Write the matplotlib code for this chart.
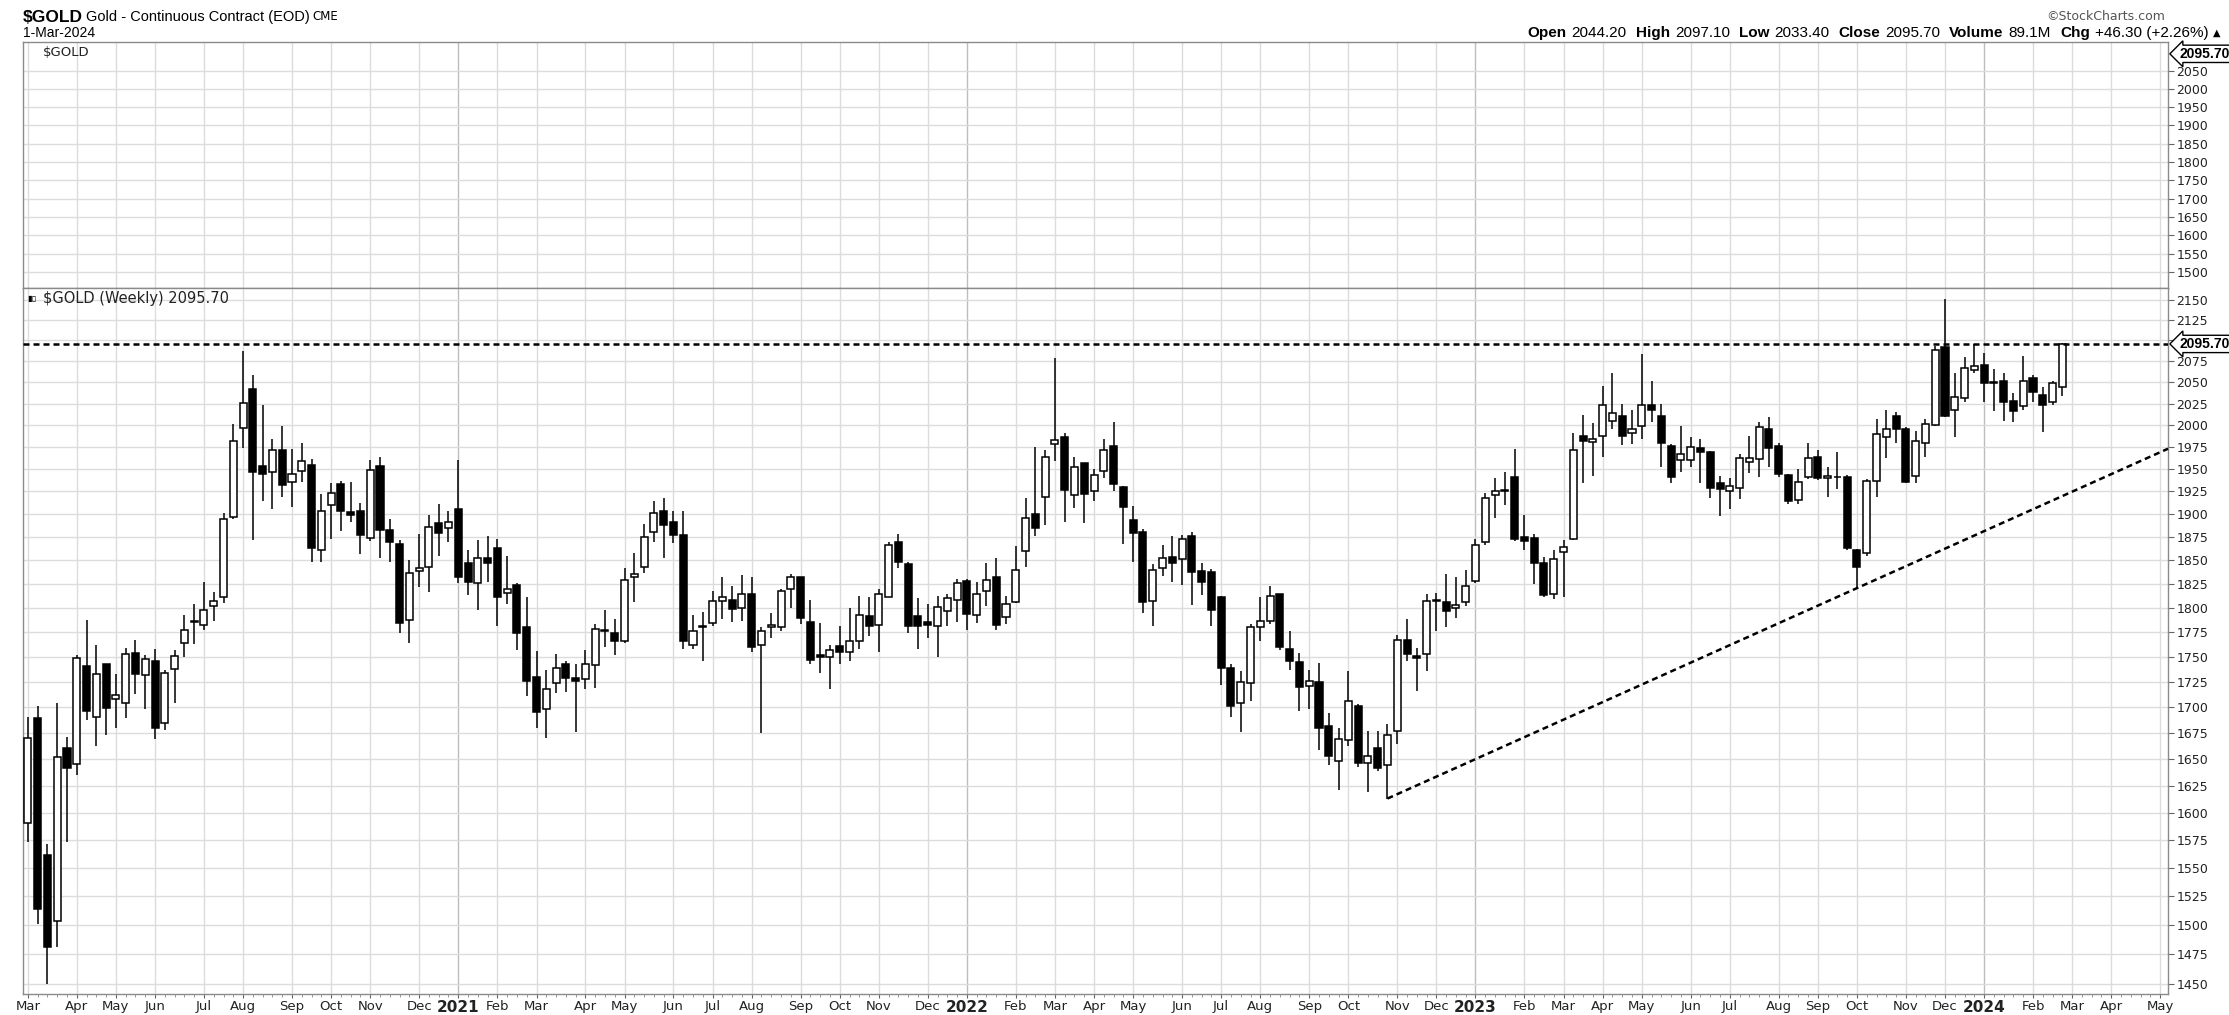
import numpy as np
import pandas as pd
import matplotlib
matplotlib.use("Agg")
import matplotlib.pyplot as plt
from matplotlib.ticker import NullLocator

W, H = 2229, 1015

# ---------------- data (weekly candles, weeks starting Monday) ----------------
first_week = "2020-03-02"
opens = [1590, 1690, 1561, 1503, 1661, 1645, 1741, 1691, 1743, 1708,
         1704, 1754, 1732, 1746, 1685, 1738, 1764, 1786, 1783, 1802,
         1811, 1897, 1997, 2042, 1954, 1947, 1971, 1935, 1948, 1955,
         1861, 1910, 1933, 1902, 1904, 1874, 1953, 1883, 1868, 1788,
         1839, 1843, 1890, 1885, 1906, 1847, 1826, 1853, 1863, 1816,
         1824, 1780, 1730, 1698, 1724, 1743, 1729, 1728, 1742, 1776,
         1774, 1766, 1833, 1843, 1881, 1903, 1891, 1877, 1762, 1780,
         1785, 1807, 1808, 1800, 1815, 1762, 1780, 1780, 1820, 1832,
         1786, 1752, 1750, 1761, 1755, 1766, 1792, 1783, 1812, 1870,
         1846, 1792, 1786, 1781, 1797, 1808, 1828, 1793, 1818, 1833,
         1791, 1806, 1860, 1900, 1919, 1978, 1986, 1921, 1957, 1926,
         1948, 1976, 1930, 1894, 1881, 1807, 1842, 1854, 1852, 1876,
         1839, 1838, 1812, 1739, 1704, 1724, 1780, 1787, 1815, 1758,
         1745, 1721, 1725, 1682, 1648, 1668, 1701, 1646, 1661, 1644,
         1677, 1767, 1751, 1753, 1807, 1806, 1800, 1806, 1828, 1870,
         1921, 1926, 1941, 1875, 1874, 1847, 1815, 1859, 1873, 1987,
         1981, 1987, 2005, 2011, 1991, 1999, 2023, 2010, 1976, 1960,
         1960, 1974, 1969, 1934, 1926, 1929, 1958, 1961, 1995, 1976,
         1943, 1916, 1941, 1964, 1940, 1941, 1941, 1861, 1858, 1937,
         1986, 2010, 1996, 1942, 1979, 2000, 2092, 2018, 2031, 2064,
         2070, 2050, 2051, 2028, 2022, 2055, 2035, 2027, 2044.2]
highs = [1691, 1701, 1571, 1704, 1671, 1752, 1788, 1762, 1743, 1733,
         1759, 1767, 1752, 1758, 1737, 1757, 1793, 1804, 1827, 1817,
         1901, 2001, 2087, 2058, 2023, 1984, 1999, 1973, 1980, 1961,
         1922, 1934, 1937, 1935, 1912, 1960, 1964, 1895, 1872, 1851,
         1878, 1899, 1911, 1903, 1960, 1861, 1872, 1876, 1873, 1855,
         1826, 1812, 1756, 1737, 1753, 1746, 1743, 1757, 1784, 1798,
         1789, 1842, 1858, 1889, 1914, 1918, 1904, 1904, 1793, 1796,
         1818, 1832, 1823, 1835, 1833, 1780, 1795, 1820, 1836, 1832,
         1808, 1785, 1762, 1781, 1800, 1813, 1811, 1820, 1870, 1878,
         1848, 1810, 1804, 1813, 1815, 1830, 1830, 1827, 1847, 1853,
         1813, 1865, 1918, 1975, 1972, 2079, 1991, 1964, 1957, 1950,
         1984, 2003, 1931, 1909, 1884, 1846, 1867, 1876, 1877, 1881,
         1847, 1841, 1813, 1743, 1736, 1784, 1811, 1823, 1815, 1776,
         1754, 1737, 1744, 1694, 1680, 1736, 1703, 1677, 1677, 1684,
         1772, 1789, 1759, 1815, 1816, 1836, 1832, 1840, 1873, 1923,
         1940, 1947, 1973, 1899, 1878, 1854, 1861, 1872, 1991, 2012,
         2002, 2046, 2061, 2025, 2018, 2083, 2051, 2024, 1978, 1999,
         1986, 1984, 1970, 1942, 1940, 1967, 1987, 2003, 2009, 1980,
         1945, 1950, 1979, 1972, 1952, 1969, 1943, 1862, 1939, 2007,
         2017, 2015, 1998, 1993, 2007, 2093, 2151, 2061, 2080, 2096,
         2085, 2066, 2061, 2037, 2081, 2059, 2044, 2052, 2097.1]
lows = [1573, 1501, 1450, 1481, 1573, 1635, 1688, 1663, 1673, 1680,
        1690, 1713, 1698, 1669, 1678, 1704, 1750, 1763, 1777, 1787,
        1805, 1895, 1974, 1872, 1914, 1906, 1919, 1908, 1935, 1848,
        1848, 1873, 1882, 1892, 1857, 1871, 1853, 1848, 1774, 1764,
        1822, 1817, 1855, 1870, 1826, 1814, 1798, 1827, 1782, 1804,
        1757, 1711, 1680, 1670, 1714, 1715, 1676, 1718, 1719, 1760,
        1752, 1764, 1806, 1837, 1870, 1853, 1869, 1758, 1758, 1746,
        1782, 1789, 1786, 1787, 1755, 1675, 1769, 1776, 1800, 1784,
        1743, 1734, 1718, 1743, 1746, 1758, 1771, 1755, 1811, 1842,
        1774, 1758, 1769, 1750, 1782, 1786, 1777, 1785, 1802, 1777,
        1784, 1805, 1843, 1876, 1888, 1959, 1892, 1907, 1890, 1915,
        1940, 1926, 1868, 1848, 1795, 1782, 1834, 1827, 1824, 1803,
        1814, 1781, 1722, 1691, 1676, 1706, 1766, 1784, 1757, 1737,
        1696, 1698, 1659, 1644, 1621, 1663, 1643, 1619, 1639, 1613,
        1664, 1746, 1716, 1736, 1776, 1780, 1790, 1802, 1826, 1867,
        1896, 1910, 1871, 1861, 1825, 1811, 1809, 1811, 1872, 1934,
        1942, 1964, 1995, 1977, 1978, 1984, 2004, 1952, 1934, 1947,
        1952, 1934, 1918, 1898, 1906, 1917, 1946, 1941, 1952, 1941,
        1911, 1911, 1939, 1938, 1919, 1928, 1861, 1820, 1855, 1919,
        1962, 1980, 1934, 1934, 1964, 1999, 2009, 1986, 2027, 2061,
        2027, 2016, 2005, 2004, 2018, 2027, 1992, 2023, 2033.4]
closes = [1670, 1514, 1481, 1652, 1642, 1749, 1696, 1733, 1699, 1712,
          1753, 1733, 1748, 1680, 1734, 1751, 1777, 1787, 1798, 1807,
          1895, 1982, 2026, 1947, 1945, 1971, 1932, 1945, 1959, 1863,
          1904, 1923, 1904, 1899, 1877, 1949, 1883, 1870, 1785, 1837,
          1842, 1886, 1880, 1891, 1833, 1827, 1853, 1847, 1811, 1820,
          1774, 1726, 1695, 1718, 1739, 1729, 1726, 1743, 1778, 1777,
          1766, 1829, 1836, 1875, 1901, 1888, 1877, 1766, 1776, 1781,
          1807, 1812, 1799, 1815, 1760, 1776, 1783, 1818, 1832, 1790,
          1747, 1750, 1757, 1755, 1766, 1793, 1781, 1815, 1867, 1848,
          1782, 1781, 1783, 1801, 1810, 1826, 1794, 1815, 1829, 1783,
          1804, 1840, 1896, 1885, 1964, 1983, 1927, 1952, 1922, 1943,
          1972, 1933, 1908, 1880, 1806, 1840, 1853, 1847, 1873, 1838,
          1827, 1798, 1739, 1701, 1725, 1780, 1787, 1813, 1760, 1746,
          1720, 1726, 1680, 1653, 1669, 1706, 1646, 1653, 1642, 1673,
          1767, 1753, 1749, 1807, 1808, 1797, 1803, 1823, 1867, 1918,
          1926, 1927, 1873, 1871, 1847, 1814, 1852, 1864, 1972, 1982,
          1984, 2023, 2014, 1988, 1996, 2023, 2017, 1980, 1941, 1967,
          1975, 1969, 1929, 1928, 1931, 1962, 1963, 1998, 1974, 1945,
          1914, 1936, 1963, 1940, 1942, 1941.5, 1863, 1843, 1937, 1990,
          1996, 1996, 1936, 1982, 2001, 2088, 2011, 2033, 2067, 2069,
          2049, 2049, 2027, 2016, 2051, 2038, 2023, 2049, 2095.7]

resistance = 2095.70
trend_weeks = [139, 218.8]
trend_prices = [1613, 1973]
main_yticks = list(range(1450, 2151, 25))
top_yticks = list(range(1500, 2051, 50))
hidden_tick = 2100
last_label = "2095.70"

# ---------------- figure ----------------
n = len(closes)
x = np.arange(n)
extra_weeks = 11
dates = pd.date_range(first_week, periods=n + extra_weeks, freq="7D")
xmin, xmax = -0.5, 218.8

fig = plt.figure(figsize=(W / 100, H / 100), dpi=100)
fig.patch.set_facecolor("white")


def px_axes(l, t, r, b):
    return fig.add_axes([l / W, 1 - b / H, (r - l) / W, (b - t) / H])


ax_top = px_axes(23, 42, 2168, 288)
ax = px_axes(23, 288, 2168, 994)

# month positions
month_pos, month_lab, month_year = [], [], []
for i, d in enumerate(dates):
    if i == 0 or d.month != dates[i - 1].month:
        month_pos.append(i)
        if d.month == 1:
            month_lab.append(str(d.year))
            month_year.append(True)
        else:
            month_lab.append(d.strftime("%b"))
            month_year.append(False)

grid_c = "#dcdcdc"
year_c = "#bdbdbd"
spine_c = "#8a8a8a"

for a in (ax_top, ax):
    a.set_xlim(xmin, xmax)
    for p, yr in zip(month_pos, month_year):
        a.axvline(p, color=year_c if yr else grid_c, lw=1.0, zorder=0)
    for s in a.spines.values():
        s.set_color(spine_c)
        s.set_linewidth(1.0)
    a.yaxis.tick_right()
    a.tick_params(axis="y", which="major", direction="out", length=4,
                  width=0.8, color="#666666", labelsize=9, pad=2,
                  labelcolor="#222222")

# ---- top (empty price) panel ----
ax_top.set_ylim(1456, 2128)
ax_top.set_yticks(top_yticks)
ax_top.set_yticklabels([str(v) for v in top_yticks])
for v in top_yticks:
    ax_top.axhline(v, color=grid_c, lw=1.0, zorder=0)
ax_top.set_xticks([])
ax_top.tick_params(axis="x", length=0, labelbottom=False)

# ---- main candlestick panel ----
ax.set_yscale("log")
ax.set_ylim(1441.3, 2164.3)
ax.set_yticks(main_yticks)
ax.set_yticklabels(["" if v == hidden_tick else str(v) for v in main_yticks])
ax.yaxis.set_minor_locator(NullLocator())
for v in main_yticks:
    ax.axhline(v, color=grid_c, lw=1.0, zorder=0)

o = np.array(opens, dtype=float)
c = np.array(closes, dtype=float)
h = np.array(highs, dtype=float)
lo = np.array(lows, dtype=float)
up = c >= o
bottom = np.minimum(o, c)
height = np.maximum(np.abs(c - o), 0.4)

ax.vlines(x, lo, h, color="black", lw=1.1, zorder=3)
ax.bar(x[up], height[up], bottom=bottom[up], width=0.72, facecolor="white",
       edgecolor="black", linewidth=1.1, zorder=4)
ax.bar(x[~up], height[~up], bottom=bottom[~up], width=0.72, facecolor="black",
       edgecolor="black", linewidth=1.1, zorder=4)

ax.axhline(resistance, color="black", lw=1.8, ls=(0, (2.4, 1.6)), zorder=5)
ax.plot(trend_weeks, trend_prices, color="black", lw=1.8, ls=(0, (2.4, 1.6)),
        zorder=5, clip_on=False)
ax.set_xlim(xmin, xmax)

ax.set_xticks(month_pos)
ax.set_xticklabels(month_lab)
ax.set_xticks(np.arange(0, int(xmax) + 1), minor=True)
ax.tick_params(axis="x", which="major", direction="out", length=3,
               color="#666666", labelsize=9.5, pad=1.5, labelcolor="#222222")
ax.tick_params(axis="x", which="minor", direction="out", length=2,
               color="#888888")
for lab, yr in zip(ax.get_xticklabels(), month_year):
    if yr:
        lab.set_fontweight("bold")
        lab.set_fontsize(11)

# boxed last-price labels
for a in (ax_top, ax):
    a.text(1 + 11 / 2145, resistance, last_label,
           transform=a.get_yaxis_transform(), ha="left", va="center",
           fontsize=10, fontweight="bold", family="Liberation Sans",
           bbox=dict(boxstyle="larrow,pad=0.12", fc="white", ec="black", lw=1.0),
           zorder=20, clip_on=False)


# ---------------- texts ----------------
def ftext(px, py, s, **kw):
    return fig.text(px / W, 1 - py / H, s, **kw)


ftext(23, 17, "$GOLD", fontsize=12.5, fontweight="bold",
      family="Liberation Sans", va="center", ha="left")
ftext(86, 17, "Gold - Continuous Contract (EOD)", fontsize=10.5,
      family="Liberation Sans", va="center", ha="left")
ftext(312, 17, "CME", fontsize=8.5, family="DejaVu Sans", va="center", ha="left")
ftext(23, 33, "1-Mar-2024", fontsize=10, family="Liberation Sans",
      va="center", ha="left")
ftext(2165, 16, "\u00a9StockCharts.com", fontsize=9, family="DejaVu Sans",
      color="#555555", va="center", ha="right")
ftext(43, 53, "$GOLD", fontsize=9.5, family="DejaVu Sans", va="center",
      ha="left", color="#222222")
ftext(27, 298, "\u25ae\u25af", fontsize=6, family="DejaVu Sans", va="center",
      ha="left")
ftext(43, 298, "$GOLD (Weekly) 2095.70", fontsize=10.5, family="DejaVu Sans",
      va="center", ha="left", color="#222222")

# right-aligned OHLC header, built right to left
renderer = fig.canvas.get_renderer()
pieces = [("Open", True), ("2044.20", False), ("High", True), ("2097.10", False),
          ("Low", True), ("2033.40", False), ("Close", True), ("2095.70", False),
          ("Volume", True), ("89.1M", False), ("Chg", True),
          ("+46.30 (+2.26%)", False)]
xr = 2220
t = ftext(xr, 33, "\u25b2", fontsize=7, family="DejaVu Sans", va="center",
          ha="right")
xr -= t.get_window_extent(renderer).width + 4
for k, (s, bold) in enumerate(reversed(pieces)):
    t = ftext(xr, 33, s, fontsize=11, family="Liberation Sans",
              fontweight="bold" if bold else "normal", va="center", ha="right")
    w = t.get_window_extent(renderer).width
    xr -= w + (5 if not bold else 9)

fig.savefig("out.png", dpi=100, facecolor="white")
